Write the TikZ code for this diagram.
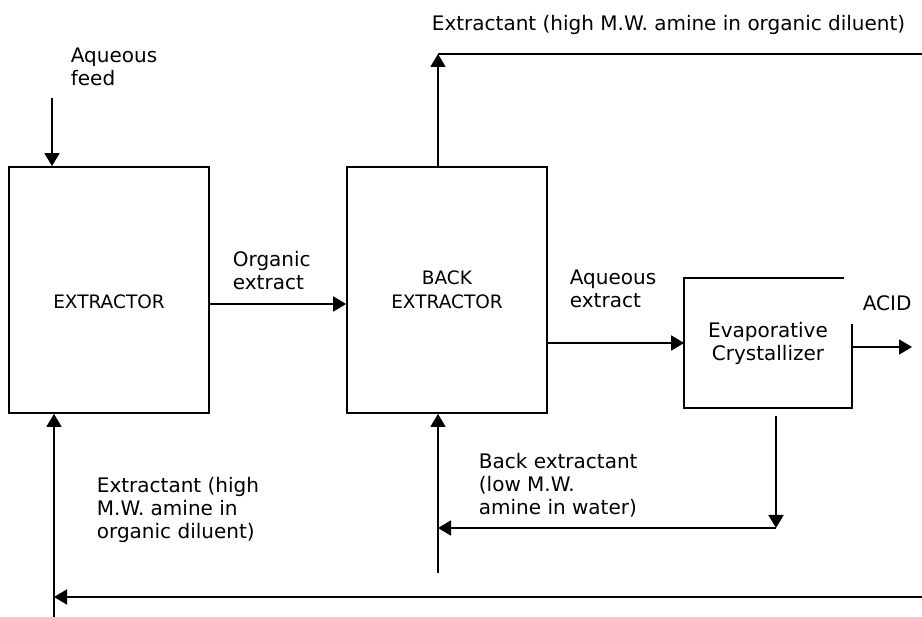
\documentclass[tikz,border=0pt]{standalone}
\usepackage{fontspec}
\setmainfont{DejaVu Sans}
\usetikzlibrary{arrows.meta, positioning}

\tikzset{
    unit/.style={draw, rectangle, align=center, minimum width=200pt, minimum height=246pt,
        font=\fontsize{18.5}{24}\selectfont},
    lbl/.style={anchor=north west, align=left, inner sep=0pt}
}

\begin{document}
\begin{tikzpicture}[x=1pt, y=-1pt, line width=1.8pt, >={Triangle[length=13pt, width=15pt]},
    font=\fontsize{20}{23}\selectfont]
    \useasboundingbox (0,0) rectangle (922,617);

    \node[unit, text height=37pt] (extr) at (109,290) {EXTRACTOR};
    \node[unit] (bextr) at (447,290) {BACK\\EXTRACTOR};
    \node[align=center, minimum width=166pt, minimum height=128pt] (evap) at (768,343) {Evaporative\\Crystallizer};
    \draw ([yshift=-46pt]evap.north east) -- (evap.south east) -- (evap.south west) -- (evap.north west) -- ([xshift=-8pt]evap.north east);

    \node[lbl] (feedlbl) at (70,47) {Aqueous\\feed};
    \node[lbl] (toplbl) at (431,14) {Extractant (high M.W. amine in organic diluent)};
    \node[lbl] (orglbl) at (232,250) {Organic\\extract};
    \node[lbl] (aqlbl) at (569,269) {Aqueous\\extract};
    \node[lbl] (acidlbl) at (862,295) {ACID};
    \node[lbl] (backlbl) at (478,452) {Back extractant\\(low M.W.\\amine in water)};
    \node[lbl] (leftlbl) at (96,476) {Extractant (high\\M.W. amine in\\organic diluent)};

    \coordinate (feedin) at (52,98);
    \coordinate (topright) at (922,54);
    \coordinate (acidout) at (912,347);
    \coordinate (crysout) at (776,416);
    \coordinate (backturn) at (776,528);
    \coordinate (backin) at (438,573);
    \coordinate (botright) at (922,597);
    \coordinate (botleft) at (54,617);

    \draw[->] (feedin) -- (feedin |- extr.north);
    \draw[->] ([yshift=-14pt]extr.east) -- ([yshift=-14pt]bextr.west);
    \draw[->] (bextr.east |- evap.west) -- (evap.west);
    \draw[->] (evap.east |- acidout) -- (acidout);
    \draw[->] (backin |- bextr.north) -- (backin |- topright);
    \draw (backin |- topright) -- (topright);
    \draw[->] (crysout) -- (backturn);
    \draw[->] (backturn) -- (backturn -| backin);
    \draw[->] (backin) -- (backin |- bextr.south);
    \draw[->] (botright) -- (botright -| botleft);
    \draw[->] (botleft) -- (botleft |- extr.south);
\end{tikzpicture}
\end{document}
